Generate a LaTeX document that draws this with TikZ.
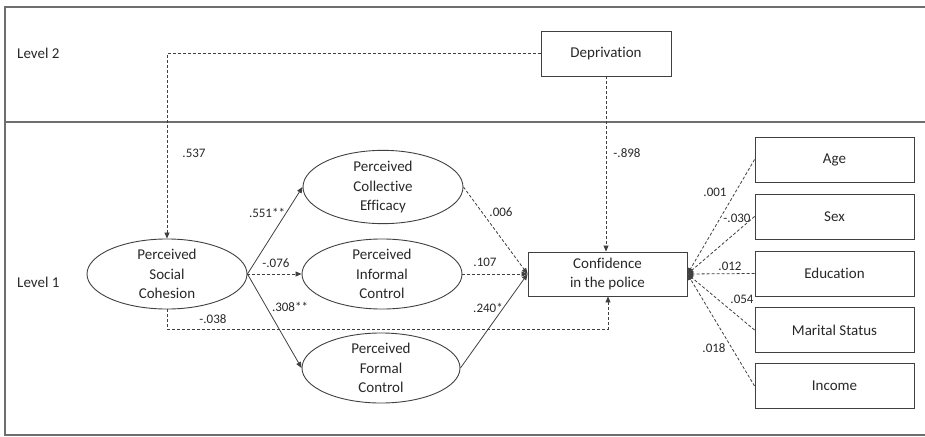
\documentclass[tikz,border=0pt]{standalone}
\usepackage{fontspec}
\setmainfont{Carlito}[Ligatures={NoCommon,NoRare}]
\usetikzlibrary{arrows.meta,shapes.geometric}

\definecolor{linegray}{RGB}{64,64,64}
\definecolor{framegray}{RGB}{110,110,110}
\definecolor{textgray}{RGB}{40,40,40}

\begin{document}
\begin{tikzpicture}[x=1pt,y=1pt,yscale=-1,
  every node/.style={text=textgray},
  boxtext/.style={font=\fontsize{15}{19.5}\selectfont,align=center},
  latent/.style={boxtext,ellipse,draw=linegray,line width=0.9pt,minimum width=160pt,minimum height=64pt,inner sep=0pt},
  observed/.style={boxtext,rectangle,draw=linegray,line width=0.9pt,minimum height=45pt,inner sep=0pt},
  coef/.style={font=\fontsize{13}{15}\selectfont,inner sep=0.5pt},
  path/.style={draw=linegray,line width=0.8pt,-{Triangle[length=6pt,width=5pt]}},
  dpath/.style={path,dash pattern=on 3pt off 2pt},
  dline/.style={draw=linegray,line width=0.8pt,dash pattern=on 3pt off 2pt}]
\useasboundingbox (0,0) rectangle (925,436);

% frame and level separator
\draw [framegray,line width=1.5pt] (925,7) -- (5,7) -- (5,435) -- (925,435);
\draw [framegray,line width=1.2pt] (5,122) -- (925,122);

% Text Node
\node [boxtext,anchor=west,inner sep=0pt] (level2) at (17,53) {Level 2};
\node [boxtext,anchor=west,inner sep=0pt] (level1) at (17,282) {Level 1};

% level 2
\node [observed,minimum width=130pt] (deprivation) at (606,53.5) {Deprivation};

% level 1 latent variables
\node [latent] (cohesion) at (167,274) {Perceived\\Social\\Cohesion};
\node [latent] (efficacy) at (383,187) {Perceived\\Collective\\Efficacy};
\node [latent] (informal) at (382,274) {Perceived\\Informal\\Control};
\node [latent,minimum width=158pt,minimum height=63pt] (formal) at (381,368) {Perceived\\Formal\\Control};

% outcome
\node [observed,minimum width=159pt,minimum height=44pt] (confidence) at (607.5,274) {Confidence\\in the police};

% covariates
\node [observed,minimum width=159pt] (age) at (834.5,159.5) {Age};
\node [observed,minimum width=159pt] (sex) at (834.5,216.5) {Sex};
\node [observed,minimum width=159pt] (education) at (834.5,273.5) {Education};
\node [observed,minimum width=159pt] (marital) at (834.5,330) {Marital Status};
\node [observed,minimum width=159pt] (income) at (834.5,386) {Income};

\coordinate (detour) at (608,329);

% cross-level paths
\draw [dpath] (deprivation.west) -| (cohesion.north);
\draw [dpath] (deprivation.south) -- (deprivation.south |- confidence.north);

% mediation paths
\draw [path] (cohesion.east) -- (efficacy.west);
\draw [dpath] (cohesion.east) -- (informal.west);
\draw [path] (cohesion.east) -- (formal.west);
\draw [dpath] (cohesion.south) |- (detour) -- (detour |- confidence.south);
\draw [dpath] (efficacy.east) -- (confidence.west);
\draw [dpath] (informal.east) -- (confidence.west);
\draw [path] (formal.east) -- (confidence.west);

% controls
\foreach \ctrl in {age,sex,education,marital,income}
  \draw [dpath] (\ctrl.west) -- (confidence.east);

% Text Node
\node [coef] (c537) at (194,153) {.537};
\node [coef] (c898) at (627,153) {-.898};
\node [coef] (c551) at (267,213) {.551**};
\node [coef] (c076) at (276,263) {-.076};
\node [coef] (c308) at (290,307) {.308**};
\node [coef] (c038) at (213,319) {-.038};
\node [coef] (c006) at (501,212) {.006};
\node [coef] (c107) at (485,262) {.107};
\node [coef] (c240) at (488,308) {.240*};
\node [coef] (c001) at (715,192) {.001};
\node [coef] (c030) at (737,218) {-.030};
\node [coef] (c012) at (730,266) {.012};
\node [coef] (c054) at (742,299) {.054};
\node [coef] (c018) at (714,348) {.018};

\end{tikzpicture}
\end{document}
